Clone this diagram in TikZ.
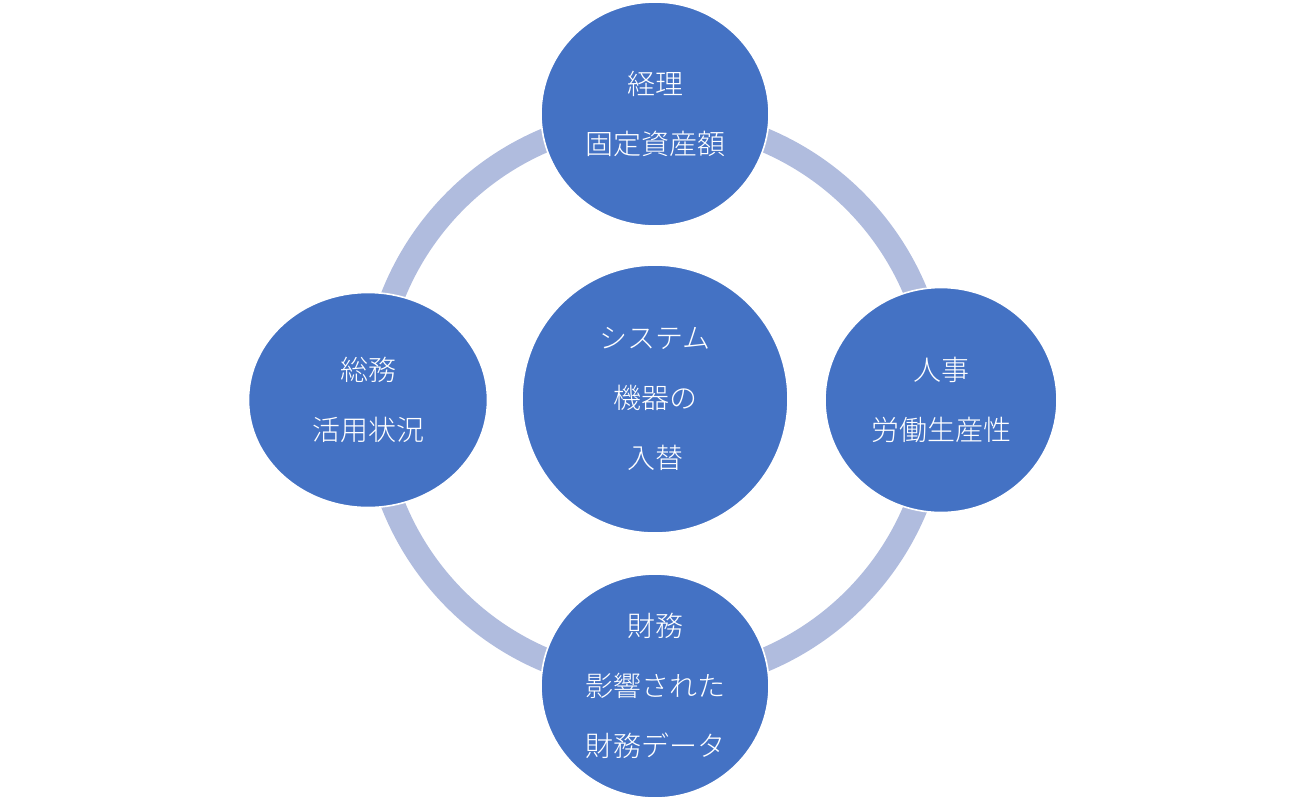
\documentclass[tikz,border=0pt]{standalone}
\usepackage{fontspec}
\setmainfont{Noto Sans CJK JP}[UprightFont = * Light]
\usetikzlibrary{shapes.geometric}
\definecolor{cycleblue}{HTML}{4472C4}
\definecolor{ringblue}{HTML}{B0BCDE}
\tikzset{
	bubble/.style={ellipse, fill=cycleblue, draw=white, line width=0.8pt, inner sep=0pt, text=white, align=center, font=\fontsize{14}{30}\selectfont},
}
\begin{document}
\begin{tikzpicture}[x=0.5pt, y=-0.5pt]
		%%%%% START %%%%%
		
		\useasboundingbox (0, 0) rectangle (1306, 800);
		
		\coordinate (hub) at (655, 400);
		\draw[line width=12pt, color=ringblue] (hub) circle [radius=141pt];
		
		\node[bubble, minimum width=133pt, minimum height=134pt] (system) at (655, 399) {システム\\機器の\\入替};
		
		\node[bubble, minimum width=114pt, minimum height=112pt] (keiri) at (655, 114) {経理\\固定資産額};
		\node[bubble, minimum width=116pt, minimum height=112.5pt] (jinji) at (941, 400) {人事\\労働生産性};
		\node[bubble, minimum width=114pt, minimum height=112pt] (zaimu) at (655, 686) {財務\\影響された\\財務データ};
		\node[bubble, minimum width=119.5pt, minimum height=107.5pt] (somu) at (368, 400) {総務\\活用状況};
		
		%%%%% END %%%%%
\end{tikzpicture}
\end{document}
